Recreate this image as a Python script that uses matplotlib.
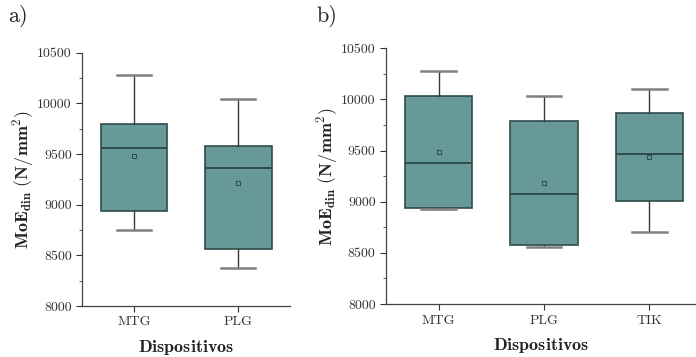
import matplotlib
matplotlib.use("Agg")
import matplotlib.pyplot as plt
from matplotlib.ticker import MultipleLocator

plt.rcParams['mathtext.fontset'] = 'cm'
plt.rcParams['font.family'] = ['cmr10', 'DejaVu Serif']
plt.rcParams['axes.formatter.use_mathtext'] = True

# Panel a data
cats_a = ["MTG", "PLG"]
whishi_a = [10280, 10040]
q3_a = [9800, 9580]
med_a = [9560, 9365]
mean_a = [9478, 9215]
q1_a = [8935, 8560]
whislo_a = [8755, 8375]

# Panel b data
cats_b = ["MTG", "PLG", "TIK"]
whishi_b = [10278, 10030, 10100]
q3_b = [10035, 9785, 9865]
med_b = [9375, 9072, 9469]
mean_b = [9488, 9185, 9440]
q1_b = [8940, 8575, 9005]
whislo_b = [8928, 8560, 8705]

yticks = [8000, 8500, 9000, 9500, 10000, 10500]

FACE = '#689999'
EDGE = '#2f4b4b'
WHISK = '#3a3a3a'
CAP = '#808080'


def make_stats(cats, whishi, q3, med, mean, q1, whislo):
    return [dict(label=c, whishi=hi, q3=a, med=m, mean=mn, q1=b, whislo=lo, fliers=[])
            for c, hi, a, m, mn, b, lo in zip(cats, whishi, q3, med, mean, q1, whislo)]


def draw(ax, stats, n):
    ax.bxp(stats, positions=range(1, n + 1), widths=0.64, capwidths=0.33,
           patch_artist=True, showmeans=True, showfliers=False,
           boxprops=dict(facecolor=FACE, edgecolor=EDGE, linewidth=1.2),
           medianprops=dict(color=EDGE, linewidth=1.4),
           whiskerprops=dict(color=WHISK, linewidth=1.0),
           capprops=dict(color=CAP, linewidth=1.8),
           meanprops=dict(marker='s', markersize=3, markerfacecolor='none',
                          markeredgecolor=EDGE, markeredgewidth=0.7))
    ax.set_ylim(8000, 10500)
    ax.set_yticks(yticks)
    ax.set_yticklabels([str(v) for v in yticks])
    ax.yaxis.set_minor_locator(MultipleLocator(250))
    ax.spines['top'].set_visible(False)
    ax.spines['right'].set_visible(False)
    for s in ('left', 'bottom'):
        ax.spines[s].set_color('#444444')
        ax.spines[s].set_linewidth(0.9)
    ax.tick_params(axis='both', which='major', direction='out', length=4,
                   width=0.8, labelsize=10, colors='#333333')
    ax.tick_params(axis='y', which='minor', direction='out', length=2, width=0.6,
                   colors='#444444')
    ax.set_ylabel(r'$\mathbf{MoE_{din}\ (N/mm^{2})}$', fontsize=13, color='#222222',
                  labelpad=1)
    ax.set_xlabel(r'$\mathbf{Dispositivos}$', fontsize=13, color='#222222',
                  labelpad=7)


fig = plt.figure(figsize=(6.96, 3.57), dpi=100)
ax1 = fig.add_axes([0.118, 0.143, 0.299, 0.709])
ax2 = fig.add_axes([0.5546, 0.1485, 0.4454, 0.716])

draw(ax1, make_stats(cats_a, whishi_a, q3_a, med_a, mean_a, q1_a, whislo_a), 2)
ax1.set_xlim(0.5, 2.5)
draw(ax2, make_stats(cats_b, whishi_b, q3_b, med_b, mean_b, q1_b, whislo_b), 3)
ax2.set_xlim(0.5, 3.444)

fig.text(0.012, 0.955, 'a)', fontsize=16, va='center', ha='left', color='#222222')
fig.text(0.455, 0.955, 'b)', fontsize=16, va='center', ha='left', color='#222222')

fig.savefig('out.png', dpi=100)
